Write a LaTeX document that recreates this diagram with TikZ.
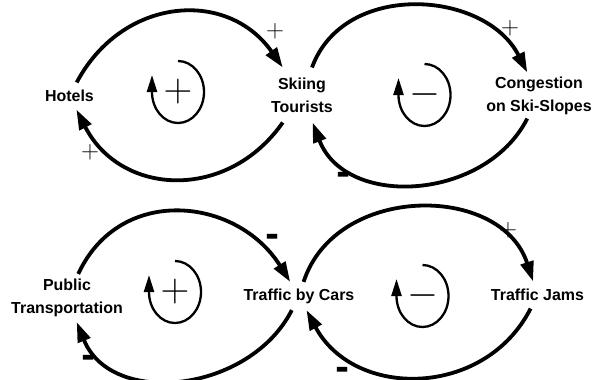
\documentclass[tikz,border=0pt]{standalone}
\usepackage{fix-cm}
\usepackage[no-math]{fontspec}
\setmainfont{Liberation Sans}
\newfontfamily\dvsans{DejaVu Sans}
\usetikzlibrary{arrows.meta}

\begin{document}
\begin{tikzpicture}[x=1bp, y=1bp,
    var/.style={font=\bfseries\fontsize{16}{23}\selectfont, align=center,
                inner xsep=2bp, inner ysep=7.5bp},
    link/.style={-{Triangle[length=20bp, width=13bp]}, line width=3.8bp},
    plusmark/.style={font=\fontsize{25}{25}\selectfont, inner sep=0pt},
    minusmark/.style={font=\dvsans\bfseries\fontsize{34}{34}\selectfont,
                inner sep=0pt, yshift=-4bp},
    loopsign/.style={font=\fontsize{40}{40}\selectfont, inner sep=0pt},
    looparc/.style={-{Triangle[length=17bp, width=10bp]}, line width=2.3bp}]
  \useasboundingbox (0,0) rectangle (594,379);

  % variables
  \node[var] (hotels) at (69.5,283) {Hotels};
  \node[var, inner ysep=10bp] (tourists) at (302,284) {Skiing\\Tourists};
  \node[var, inner ysep=4bp] (congestion) at (539,283.5)
    {Congestion\\on Ski-Slopes};
  \node[var, inner ysep=5bp] (publictr) at (67,81) {Public\\Transportation};
  \node[var, inner ysep=6.5bp] (cars) at (299,83) {Traffic by Cars};
  \node[var] (jams) at (537.5,84) {Traffic Jams};

  % causal links
  \draw[link] (hotels) to[out=62, in=125, looseness=1.2] (tourists);
  \draw[link] (tourists) to[out=235, in=297, looseness=1.2] (hotels);
  \draw[link] (tourists) to[out=70, in=117, looseness=1.1] (congestion);
  \draw[link] (congestion) to[out=243, in=291, looseness=1.1] (tourists);
  \draw[link] (publictr) to[out=65, in=122, looseness=1.2] (cars);
  \draw[link] (cars) to[out=243, in=292, looseness=1.1] (publictr);
  \draw[link] (cars) to[out=72, in=108, looseness=1.15] (jams);
  \draw[link] (jams) to[out=243, in=298, looseness=1.15] (cars);

  % link polarities
  \node[plusmark] (ht) at (275,348) {$+$};
  \node[plusmark] (th) at (90,227) {$+$};
  \node[plusmark] (tc) at (510,351) {$+$};
  \node[minusmark] (ct) at (344,205) {-};
  \node[minusmark] (pc) at (272.5,143) {-};
  \node[minusmark] (cp) at (89,21.5) {-};
  \node[plusmark] (cj) at (508,149) {$+$};
  \node[minusmark] (jc) at (342.5,10) {-};

  % loop markers
  \foreach \n/\x/\y/\s in {a/178/287/+, b/424.5/284/-, c/175/87/+, d/422.5/83/-}{
    \node[loopsign] (loop\n) at (\x,\y) {$\s$};
    \draw[looparc] (loop\n.center) ++(0,31)
      arc[start angle=90, end angle=-180, x radius=26, y radius=31] -- ++(0,17);
  }
\end{tikzpicture}
\end{document}
